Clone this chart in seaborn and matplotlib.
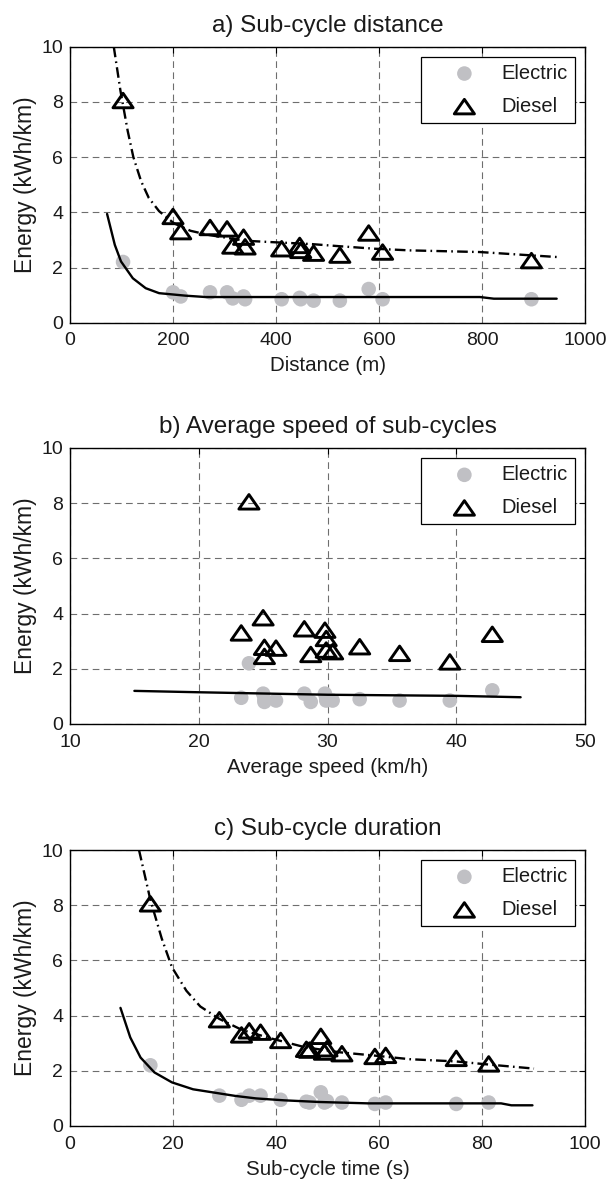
import matplotlib
matplotlib.use("Agg")
import matplotlib.pyplot as plt
import seaborn as sns
import pandas as pd
from matplotlib.path import Path

# ---- measured sub-cycles (same 16 sub-cycles in every panel) ----
distance_m = [103, 200, 215, 272, 305, 316, 337, 340, 411, 446, 448, 473, 524, 580, 607, 896]
speed_kmh = [23.9, 25.0, 23.3, 28.2, 29.8, 25.1, 29.9, 26.0, 29.9, 32.5, 30.4, 28.7, 25.1, 42.8, 35.6, 39.5]
duration_s = [15.6, 29.0, 33.3, 34.8, 37.0, 45.9, 40.9, 46.5, 49.4, 49.9, 52.8, 59.2, 75.0, 48.7, 61.3, 81.3]
diesel_kwh_km = [8.05, 3.85, 3.3, 3.45, 3.4, 2.78, 3.1, 2.75, 2.68, 2.8, 2.62, 2.52, 2.45, 3.25, 2.56, 2.25]
electric_kwh_km = [2.2, 1.1, 0.95, 1.1, 1.1, 0.88, 0.95, 0.85, 0.85, 0.9, 0.85, 0.8, 0.8, 1.22, 0.85, 0.85]

# ---- fitted trend curves ----
fit_a_diesel_x = [85, 98, 112, 123, 138, 153, 173, 202, 234, 269, 340, 391, 468, 524, 592, 660, 796, 945]
fit_a_diesel_y = [10.0, 8.4, 6.95, 6.0, 5.13, 4.52, 4.04, 3.6, 3.33, 3.18, 2.97, 2.92, 2.85, 2.77, 2.68, 2.62, 2.56, 2.38]
fit_a_electric_x = [72, 87, 99, 122, 147, 173, 224, 263, 400, 600, 796, 823, 945]
fit_a_electric_y = [3.94, 2.82, 2.22, 1.61, 1.25, 1.07, 0.98, 0.93, 0.93, 0.93, 0.93, 0.87, 0.87]

fit_b_electric_x = [15, 20, 30, 40, 45]
fit_b_electric_y = [1.2, 1.15, 1.06, 1.02, 0.97]

fit_c_diesel_x = [13.4, 15.6, 17.8, 19.8, 22.6, 25.3, 29.0, 33.4, 38.9, 45.7, 52.4, 59.2, 66.0, 74.9, 81.7, 90.1]
fit_c_diesel_y = [10.0, 8.2, 6.8, 5.75, 4.9, 4.33, 3.88, 3.48, 3.18, 2.85, 2.67, 2.55, 2.42, 2.34, 2.22, 2.08]
fit_c_electric_x = [9.8, 11.7, 13.7, 16.4, 19.8, 23.9, 28.0, 32.1, 36.1, 41.6, 48.4, 57.9, 66.0, 83.7, 85.7, 89.8]
fit_c_electric_y = [4.28, 3.21, 2.48, 1.94, 1.58, 1.33, 1.21, 1.09, 1.0, 0.93, 0.87, 0.82, 0.82, 0.82, 0.75, 0.75]

titles = ["a) Sub-cycle distance", "b) Average speed of sub-cycles", "c) Sub-cycle duration"]
xlabels = ["Distance (m)", "Average speed (km/h)", "Sub-cycle time (s)"]
xticks = [[0, 200, 400, 600, 800, 1000], [10, 20, 30, 40, 50], [0, 20, 40, 60, 80, 100]]
yticks = [0, 2, 4, 6, 8, 10]
ylabel = "Energy (kWh/km)"

sns.set_theme(style="white")
plt.rcParams["font.family"] = ["Liberation Sans", "DejaVu Sans"]
plt.rcParams["text.color"] = "#1a1a1a"
plt.rcParams["axes.labelcolor"] = "#1a1a1a"
plt.rcParams["xtick.color"] = "black"
plt.rcParams["ytick.color"] = "black"
plt.rcParams["xtick.labelcolor"] = "#1a1a1a"
plt.rcParams["ytick.labelcolor"] = "#1a1a1a"

FS = 14
W, H = 608, 1180
fig = plt.figure(figsize=(W / 100, H / 100), dpi=100)

# axes boxes in pixels: (left, top, right, bottom)
boxes = [(70, 46.7, 585, 322.7), (70, 448, 585, 724), (70, 850, 585, 1126)]

# open, slightly flattened triangle marker
tri = Path([(-1, -0.72), (1, -0.72), (0, 0.72), (-1, -0.72)],
           [Path.MOVETO, Path.LINETO, Path.LINETO, Path.CLOSEPOLY])

xs_points = [distance_m, speed_kmh, duration_s]
curves = [
    [(fit_a_electric_x, fit_a_electric_y, "-"), (fit_a_diesel_x, fit_a_diesel_y, "-.")],
    [(fit_b_electric_x, fit_b_electric_y, "-")],
    [(fit_c_electric_x, fit_c_electric_y, "-"), (fit_c_diesel_x, fit_c_diesel_y, "-.")],
]

for i, (l, t, r, b) in enumerate(boxes):
    ax = fig.add_axes([l / W, 1 - b / H, (r - l) / W, (b - t) / H])
    df = pd.DataFrame({"x": xs_points[i], "electric": electric_kwh_km, "diesel": diesel_kwh_km})

    sns.scatterplot(data=df, x="x", y="electric", ax=ax, color="#c0c0c4", s=110,
                    edgecolor="none", linewidth=0, label="Electric", zorder=3)
    sns.scatterplot(data=df, x="x", y="diesel", ax=ax, marker=tri, s=14.5 ** 2,
                    facecolors="none", edgecolor="black", color="black",
                    linewidth=2.1, label="Diesel", zorder=4)

    for cx, cy, style in curves[i]:
        ls = "-" if style == "-" else (0, (4.5, 1.8, 0.7, 1.8))
        sns.lineplot(x=cx, y=cy, ax=ax, color="black", linewidth=1.7, linestyle=ls,
                     estimator=None, sort=False, legend=False, zorder=5)

    ax.set_xlim(xticks[i][0], xticks[i][-1])
    ax.set_ylim(0, 10)
    ax.set_xticks(xticks[i])
    ax.set_yticks(yticks)
    ax.grid(True, color="#6e6e6e", linewidth=0.8, linestyle=(0, (6, 4)))
    ax.set_axisbelow(True)
    ax.tick_params(direction="in", length=4, width=0.8, top=True, right=True,
                   labelsize=FS)
    ax.tick_params(axis="x", pad=7)
    ax.tick_params(axis="y", pad=5)
    for sp in ax.spines.values():
        sp.set_color("black")
        sp.set_linewidth(1.0)

    ax.set_title(titles[i], fontsize=17.5, pad=10.8)
    ax.set_xlabel(xlabels[i], fontsize=14.8, labelpad=5)
    ax.set_ylabel(ylabel, fontsize=16.5, labelpad=3)

    leg = ax.legend(loc="upper right", fontsize=14.5, frameon=True, fancybox=False,
                    edgecolor="black", framealpha=1, borderpad=0.35, borderaxespad=0.5,
                    handlelength=3.6, handletextpad=0.05, labelspacing=0.7,
                    scatterpoints=1)
    leg.get_frame().set_linewidth(0.9)

fig.savefig("out.png", dpi=100)
